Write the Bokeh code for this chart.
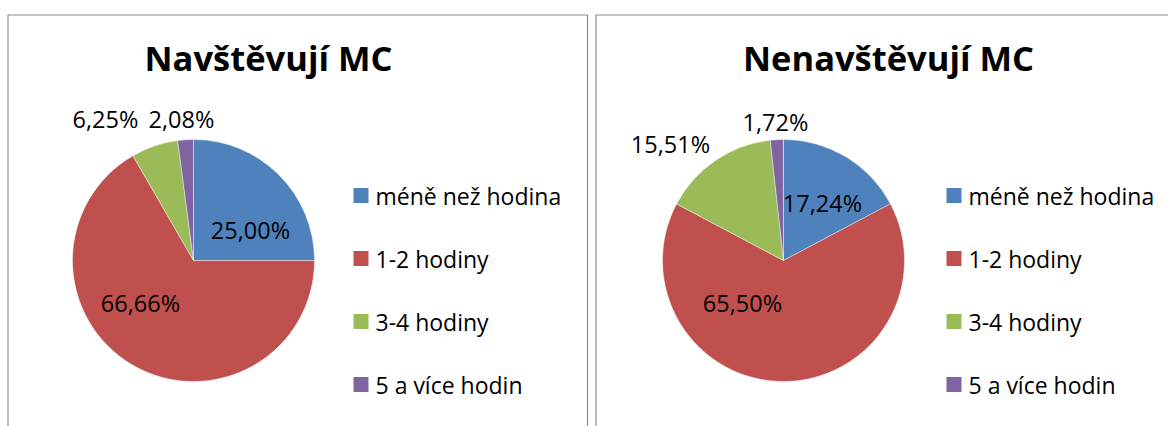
import math
from bokeh.plotting import figure
from bokeh.models import ColumnDataSource, Range1d
from bokeh.core.properties import value
from bokeh.embed import file_html
from bokeh.resources import INLINE

# ---- data ----
categories = ["méně než hodina", "1-2 hodiny", "3-4 hodiny", "5 a více hodin"]
titles = ["Navštěvují MC", "Nenavštěvují MC"]
visit_values = [25.00, 66.66, 6.25, 2.08]
novisit_values = [17.24, 65.50, 15.51, 1.72]
colors = ["#4F81BD", "#C0504D", "#9BBB59", "#8064A2"]

# ---- layout (page pixel coordinates) ----
W, H = 1168, 426
PAGE_H = 426
FONT = "Open Sans"


def Y(py):
    return PAGE_H - py


p = figure(width=W, height=H, output_backend="svg", toolbar_location=None,
           x_range=Range1d(0, W), y_range=Range1d(PAGE_H - H, PAGE_H),
           min_border=0, background_fill_color="white", border_fill_color="white")
p.axis.visible = False
p.grid.visible = False
p.outline_line_color = None

panels = [
    dict(values=visit_values, title=titles[0], x0=7.5, x1=587, cx=193, cy=260,
         tx=268, legx=353,
         label_off=[(57, -31), (-53, 42), (-88, -142), (-12, -142)]),
    dict(values=novisit_values, title=titles[1], x0=595.5, x1=1175, cx=783, cy=260,
         tx=888, legx=946,
         label_off=[(39, -58), (-41, 42), (-113, -117), (-8, -139)]),
]
R = 121
legend_rows = [195, 258, 321, 384]
border_color = "#8C8C8C"

for pn in panels:
    # panel border (open at bottom, cut by the window)
    p.line(x=[pn["x0"], pn["x0"], pn["x1"], pn["x1"]],
           y=[Y(440), Y(14.5), Y(14.5), Y(440)],
           line_color=border_color, line_width=1.2)
    vals = pn["values"]
    total = 100.0
    starts, ends = [], []
    cum = 0.0
    for v in vals:
        a0 = math.pi / 2 - cum / total * 2 * math.pi
        cum += v
        a1 = math.pi / 2 - cum / total * 2 * math.pi
        starts.append(a0)
        ends.append(a1)
    src = ColumnDataSource(dict(start=starts, end=ends, color=colors, cat=categories))
    p.wedge(x=pn["cx"], y=Y(pn["cy"]), radius=R, start_angle="start", end_angle="end",
            direction="clock", fill_color="color", line_color="white",
            line_width=0.6, line_alpha=0.7, source=src)
    # data labels
    lx = [pn["cx"] + dx for dx, dy in pn["label_off"]]
    ly = [Y(pn["cy"] + dy) for dx, dy in pn["label_off"]]
    labels = [f"{v:.2f}".replace(".", ",") + "%" for v in vals]
    p.text(x=lx, y=ly, text=labels, text_font=value(FONT), text_font_size="23.5px",
           text_align="center", text_baseline="middle", text_color="#000000")
    # title
    p.text(x=[pn["tx"]], y=[Y(57)], text=[pn["title"]], text_font=value(FONT),
           text_font_size="34.5px", text_font_style="bold", text_align="center",
           text_baseline="middle", text_color="#000000")
    # legend
    sq = 15
    p.rect(x=[pn["legx"] + sq / 2] * 4, y=[Y(r) for r in legend_rows], width=sq, height=sq,
           fill_color=colors, line_color=None)
    p.text(x=[pn["legx"] + sq + 7] * 4, y=[Y(r) for r in legend_rows], text=categories,
           text_font=value(FONT), text_font_size="23px", text_align="left",
           text_baseline="middle", text_color="#000000")

open("out.html", "w").write(file_html(p, INLINE))
